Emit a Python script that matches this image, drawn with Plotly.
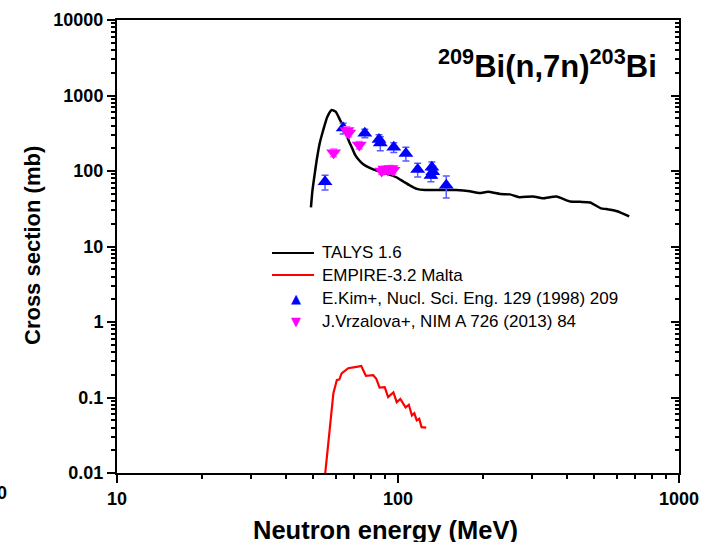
import plotly.graph_objects as go

# TALYS 1.6 excitation function (MeV, mb)
talys_e = [49.0, 49.6, 50.4, 51.3, 52.6, 54.2, 56.0, 58.1, 60.0, 62.2, 64.0, 65.6,
           67.0, 68.7, 70.3, 72.2, 75.0, 79.3, 86.0, 93.9, 99.0, 104.8, 110.5, 116.6,
           125.0, 137.5, 161.0, 180.0, 195.0, 209.0, 231.0, 250.0, 270.0, 302.0,
           328.0, 366.0, 410.0, 445.0, 483.0, 525.0, 560.0, 603.0, 665.0]
talys_xs = [33, 55, 85, 135, 230, 349, 520, 643, 610, 473, 380, 300,
            245, 200, 165, 143, 124, 110, 98, 89, 82, 72, 64, 58,
            56, 56, 56, 54, 51, 53, 49.6, 49, 45, 46,
            43.5, 46, 39.4, 39, 38.3, 32.3, 31, 29.3, 25]

# EMPIRE-3.2 Malta excitation function (MeV, mb)
empire_e = [55.1, 57.4, 58.9, 60.6, 61.8, 63.0, 66.5, 71.2, 74.0, 76.9, 81.6, 83.7,
            86.0, 89.7, 92.2, 96.3, 99.0, 101.9, 106.4, 109.3, 112.1, 114.3, 116.6,
            119.0, 121.3, 126.0]
empire_xs = [0.01, 0.0455, 0.114, 0.171, 0.173, 0.209, 0.244, 0.255, 0.262, 0.193,
             0.197, 0.177, 0.135, 0.137, 0.101, 0.117, 0.0866, 0.0955, 0.0740, 0.080,
             0.0577, 0.0618, 0.0498, 0.0523, 0.0405, 0.040]

# E.Kim et al. measurements
kim_e = [55.0, 63.8, 76.2, 85.6, 86.5, 96.6, 106.7, 117.5, 131.0, 132.0, 133.0, 148.5]
kim_xs = [72, 370, 316, 262, 235, 206, 171, 105, 87, 112, 98, 65]
kim_err = [16, 60, 40, 40, 50, 30, 35, 22, 15, 20, 18, 21]

# J.Vrzalova et al. measurements
vrz_e = [59.0, 65.8, 66.8, 72.8, 87.5, 89.7, 92.2, 94.5, 96.0]
vrz_xs = [175, 345, 318, 221, 100, 106, 103, 108, 102]
vrz_err = [20, 40, 35, 25, 10, 10, 10, 10, 10]

y_ticks = [0.01, 0.1, 1, 10, 100, 1000, 10000]
y_labels = ["0.01", "0.1", "1", "10", "100", "1000", "10000"]
x_ticks = [10, 100, 1000]
x_labels = ["10", "100", "1000"]
x_minor = [20, 30, 40, 50, 60, 70, 80, 90, 200, 300, 400, 500, 600, 700, 800, 900]
y_minor = [m * d for d in [0.01, 0.1, 1, 10, 100, 1000] for m in range(2, 10)]

legend_names = ["TALYS 1.6", "EMPIRE-3.2 Malta",
                "E.Kim+, Nucl. Sci. Eng. 129 (1998) 209",
                "J.Vrzalova+, NIM A 726 (2013) 84"]

FONT = "Liberation Sans"

# plot area in pixels: x 117..679, y 20..473
L, R, T, B = 117, 679, 20, 473


def px(x):
    return (x - L) / (R - L)


def py(y):
    return (B - y) / (B - T)


fig = go.Figure()
fig.add_trace(go.Scatter(
    x=talys_e, y=talys_xs, mode="lines", name=legend_names[0],
    line=dict(color="black", width=2.5, shape="spline", smoothing=0.5)))
fig.add_trace(go.Scatter(
    x=empire_e, y=empire_xs, mode="lines", name=legend_names[1],
    line=dict(color="red", width=2.2)))
fig.add_trace(go.Scatter(
    x=kim_e, y=kim_xs, mode="markers", name=legend_names[2],
    marker=dict(symbol="triangle-up", size=13, color="blue", line=dict(width=0)),
    error_y=dict(type="data", array=kim_err, color="rgb(90,90,255)",
                 thickness=1.5, width=3.5)))
fig.add_trace(go.Scatter(
    x=vrz_e, y=vrz_xs, mode="markers", name=legend_names[3],
    marker=dict(symbol="triangle-down", size=13, color="magenta", line=dict(width=0)),
    error_y=dict(type="data", array=vrz_err, color="rgb(255,100,255)",
                 thickness=1.5, width=3.5)))
# carrier for the right-hand mirror axis
fig.add_trace(go.Scatter(x=[None], y=[None], yaxis="y2", showlegend=False,
                         hoverinfo="skip"))

tickfont = dict(family=FONT, size=18, color="black", weight="bold")

# hand-laid legend: line samples, marker glyphs and labels
legend_rows = [253, 275, 298, 321]
shapes = []
annotations = []
for row, color in zip(legend_rows[:2], ["black", "red"]):
    shapes.append(dict(type="line", xref="paper", yref="paper",
                       x0=px(272), x1=px(314), y0=py(row), y1=py(row),
                       line=dict(color=color, width=2)))
for row, glyph, color in zip(legend_rows[2:], ["▲", "▼"], ["blue", "magenta"]):
    annotations.append(dict(text=glyph, xref="paper", yref="paper",
                            x=px(296), y=py(row), xanchor="center", yanchor="middle",
                            showarrow=False,
                            font=dict(family="DejaVu Sans", size=13, color=color)))
for row, name in zip(legend_rows, legend_names):
    annotations.append(dict(text=name, xref="paper", yref="paper",
                            x=px(320), y=py(row), xanchor="left", yanchor="middle",
                            showarrow=False,
                            font=dict(family=FONT, size=17, color="black")))

annotations += [
    dict(text="<b><sup>209</sup>Bi(n,7n)<sup>203</sup>Bi</b>",
         xref="paper", yref="paper", x=px(547), y=py(64),
         xanchor="center", yanchor="middle", showarrow=False,
         font=dict(family=FONT, size=31, color="black")),
    dict(text="<b>Cross section (mb)</b>", textangle=-90,
         xref="paper", yref="paper", x=px(32), y=py(246),
         xanchor="center", yanchor="middle", showarrow=False,
         font=dict(family=FONT, size=22, color="black")),
    dict(text="<b>Neutron energy (MeV)</b>",
         xref="paper", yref="paper", x=px(385), y=py(530),
         xanchor="center", yanchor="middle", showarrow=False,
         font=dict(family=FONT, size=25.5, color="black")),
    dict(text="<b>10</b>",
         xref="paper", yref="paper", x=px(9), y=py(493),
         xanchor="right", yanchor="middle", showarrow=False,
         font=dict(family=FONT, size=18, color="black")),
]

fig.update_layout(
    width=701, height=542,
    margin=dict(l=L, r=701 - R, t=T, b=542 - B, autoexpand=False),
    paper_bgcolor="white", plot_bgcolor="white",
    showlegend=False,
    xaxis=dict(type="log", range=[1, 3], showgrid=False, zeroline=False,
               automargin=False,
               showline=True, linecolor="black", linewidth=2, mirror=True,
               ticks="outside", ticklen=8, tickwidth=2, tickcolor="black",
               tickmode="array", tickvals=x_ticks, ticktext=x_labels,
               tickfont=tickfont,
               minor=dict(ticks="outside", ticklen=4, tickwidth=1.5,
                          tickcolor="black", tickmode="array", tickvals=x_minor,
                          showgrid=False)),
    yaxis=dict(type="log", range=[-2, 4], showgrid=False, zeroline=False,
               automargin=False,
               showline=True, linecolor="black", linewidth=2,
               ticks="outside", ticklen=8, tickwidth=2, tickcolor="black",
               tickmode="array", tickvals=y_ticks, ticktext=y_labels,
               tickfont=tickfont,
               minor=dict(ticks="outside", ticklen=4, tickwidth=1.5,
                          tickcolor="black", tickmode="array", tickvals=y_minor,
                          showgrid=False)),
    yaxis2=dict(type="log", range=[-2, 4], overlaying="y", side="right",
                automargin=False,
                showgrid=False, zeroline=False, showticklabels=False,
                showline=True, linecolor="black", linewidth=2,
                ticks="inside", ticklen=8, tickwidth=2, tickcolor="black",
                tickmode="array", tickvals=y_ticks,
                minor=dict(ticks="inside", ticklen=4, tickwidth=1.5,
                           tickcolor="black", tickmode="array", tickvals=y_minor,
                           showgrid=False)),
    shapes=shapes,
    annotations=annotations,
)

fig.write_html("out.html")
